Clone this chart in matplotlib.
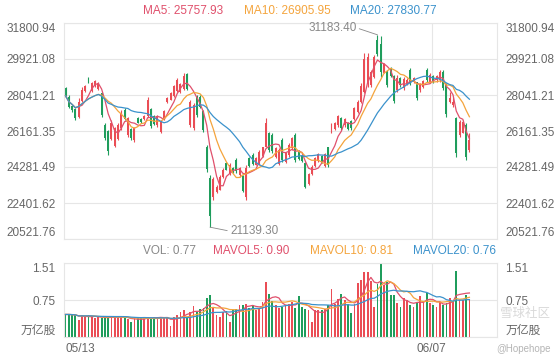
import numpy as np
import pandas as pd
import matplotlib
matplotlib.use('Agg')
import matplotlib.pyplot as plt

plt.rcParams['font.family'] = ['Liberation Sans', 'Noto Sans CJK SC', 'DejaVu Sans']

# K线数据
opens = [28400, 27950, 27450, 27300, 26900, 27750, 28250, 28950, 28250, 28500,
         28350, 28150, 26500, 26150, 25750, 25400, 25750, 26300, 27250, 25950,
         26250, 25700, 26850, 26800, 26780, 26950, 27300, 26950, 26450, 26100,
         26800, 27650, 27800, 28000, 28250, 28200, 28350, 29150, 26450, 26300,
         27950, 27950, 27200, 25350, 23700, 22700, 22950, 23100, 23750, 24500,
         23900, 24250, 24650, 23850, 23800, 22700, 24750, 24900, 24400, 24450,
         24850, 25350, 26050, 25950, 24800, 24450, 25700, 24550, 24900, 25250,
         25950, 25100, 24850, 24500, 23400, 23900, 24350, 24600, 24850, 24350,
         25300, 26100, 26250, 26450, 26850, 26450, 26600, 26700, 26800, 27150,
         27700, 28200, 28600, 28550, 29000, 30900, 30700, 29200, 29300, 29450,
         29050, 28300, 28950, 28400, 28600, 29350, 28700, 28700, 28300, 28450,
         29350, 28700, 29050, 28800, 28800, 29250, 28550, 27700, 27500, 26850,
         25950, 26050, 26500, 25150]
highs = [28480, 28040, 27520, 27350, 27870, 28480, 28570, 29000, 28740, 28830,
         28740, 28220, 26560, 26220, 26740, 26390, 26560, 27260, 27350, 26910,
         26300, 26390, 26910, 26830, 27000, 27960, 27350, 27000, 27000, 26740,
         27260, 27960, 28220, 28570, 28910, 28650, 29170, 29170, 27780, 27610,
         28040, 28040, 27260, 25430, 23860, 23780, 23340, 23860, 24210, 24560,
         24470, 24300, 24730, 24300, 23860, 24380, 24820, 24990, 24820, 25170,
         25340, 26820, 26130, 26040, 25340, 25260, 25780, 25080, 25520, 25870,
         26040, 25170, 24910, 24560, 23950, 24390, 24820, 25000, 24910, 25000,
         25350, 26565, 26650, 27000, 26910, 26825, 26650, 26740, 27435, 27780,
         28650, 30220, 30220, 29350, 30130, 31183.40, 31100, 29700, 29350, 29520,
         29090, 29090, 29000, 29000, 28910, 29430, 29000, 28740, 28650, 28830,
         29430, 29170, 29090, 29090, 29350, 29350, 28650, 28220, 27960, 26910,
         26740, 26740, 26560, 26040]
lows = [27950, 27350, 27170, 26740, 26820, 27700, 28220, 28650, 28220, 28480,
        28300, 26910, 25690, 24910, 25690, 25350, 25690, 26220, 26740, 25870,
        25690, 25600, 26560, 26560, 26740, 26910, 26300, 26480, 26390, 26040,
        26740, 27600, 27780, 27960, 28220, 28130, 28300, 28300, 26390, 26220,
        26910, 27350, 26130, 24040, 21139.30, 22560, 22900, 23080, 23690, 24120,
        23860, 23950, 23950, 23780, 22990, 22560, 24300, 24380, 24380, 24380,
        24820, 25340, 25080, 25000, 24730, 24390, 24560, 24470, 24820, 25170,
        24560, 24650, 24560, 23170, 23340, 23860, 24300, 24560, 24470, 24300,
        24300, 26040, 26215, 26390, 26215, 26390, 26215, 26215, 26740, 27085,
        27610, 28130, 28480, 28480, 28910, 30100, 29000, 29170, 28480, 29000,
        27610, 28220, 28480, 28300, 28560, 28560, 28650, 27780, 28220, 28390,
        28740, 28650, 28650, 28740, 28740, 28300, 26910, 27610, 27430, 24820,
        25870, 26040, 24650, 25090]
closes = [28000, 27400, 27250, 26850, 27700, 28300, 28500, 28700, 28650, 28750,
          28650, 27000, 25800, 25100, 26600, 26300, 26450, 27100, 26800, 26850,
          25800, 26300, 26600, 26620, 26950, 27800, 26400, 26550, 26950, 26650,
          27200, 27900, 28150, 28500, 28800, 28600, 29050, 28350, 27650, 27500,
          27000, 27400, 26200, 24200, 21700, 23650, 23250, 23750, 24150, 24150,
          24400, 24000, 24050, 24250, 23050, 24250, 24350, 24450, 24750, 25050,
          25300, 26600, 25150, 25100, 25250, 25150, 24650, 25000, 25450, 25800,
          24650, 24700, 24600, 23250, 23900, 24300, 24750, 24950, 24500, 24950,
          24400, 26500, 26600, 26950, 26300, 26780, 26280, 26300, 27350, 27700,
          28500, 29900, 30000, 29250, 30000, 30200, 29250, 29650, 28550, 29050,
          27750, 28950, 28550, 28900, 28850, 28650, 28950, 27900, 28600, 28750,
          28800, 29100, 28700, 29050, 29250, 28400, 27050, 27900, 27670, 25000,
          26650, 26650, 24800, 25690]
# 成交量(万亿股)
volume = [0.46, 0.46, 0.45, 0.44, 0.34, 0.44, 0.43, 0.44, 0.42, 0.38,
          0.40, 0.39, 0.41, 0.40, 0.41, 0.40, 0.42, 0.41, 0.40, 0.36,
          0.30, 0.38, 0.38, 0.39, 0.38, 0.40, 0.39, 0.40, 0.40, 0.41,
          0.38, 0.40, 0.22, 0.40, 0.45, 0.50, 0.56, 0.40, 0.50, 0.64,
          0.52, 0.57, 0.60, 0.80, 0.85, 0.60, 0.45, 0.40, 0.50, 0.53,
          0.30, 0.55, 0.58, 0.65, 0.65, 0.67, 0.60, 0.65, 0.55, 0.60,
          0.72, 1.12, 0.87, 0.73, 0.66, 0.60, 0.62, 0.65, 0.68, 0.72,
          0.60, 0.83, 0.62, 0.58, 0.55, 0.31, 0.55, 0.55, 0.55, 0.58,
          0.66, 0.98, 0.68, 0.78, 0.88, 0.76, 0.68, 0.48, 0.68, 1.10,
          1.17, 1.33, 1.33, 1.15, 0.62, 1.08, 1.51, 1.06, 1.12, 0.85,
          0.85, 0.70, 0.62, 0.79, 0.75, 0.66, 0.62, 0.70, 0.83, 0.72,
          0.90, 0.70, 0.66, 0.62, 0.72, 0.66, 0.70, 0.79, 0.74, 1.35,
          0.76, 0.76, 0.85, 0.77]

date_labels = ['05/13', '06/07']
date_pos = [0, 111.5]
price_ticks = [20521.76, 22401.62, 24281.49, 26161.35, 28041.21, 29921.08, 31800.94]
vol_ticks = [0, 0.75, 1.51]
vol_tick_labels = ['万亿股', '0.75', '1.51']
ma_legend = ['MA5: 25757.93', 'MA10: 26905.95', 'MA20: 27830.77']
vol_legend = ['VOL: 0.77', 'MAVOL5: 0.90', 'MAVOL10: 0.81', 'MAVOL20: 0.76']

RED = '#ea4d55'
GREEN = '#1f9d5c'
C5 = '#e0506c'
C10 = '#f4a43c'
C20 = '#3b92cc'
GRID = '#e6e6e6'
TXT = '#666666'

o = np.array(opens, dtype=float)
h = np.array(highs, dtype=float)
l = np.array(lows, dtype=float)
c = np.array(closes, dtype=float)
v = np.array(volume, dtype=float)
x = np.arange(len(c))
cols = np.where(c >= o, RED, GREEN)

cs = pd.Series(c)
vs = pd.Series(v)

fig = plt.figure(figsize=(5.6, 3.6), dpi=100)
ax = fig.add_axes([64/560, 1-239/360, 433/560, 216/360])
axv = fig.add_axes([64/560, 1-337/360, 433/560, 74/360])

# 主图: K线 + 均线
ax.vlines(x, l, h, colors=cols, lw=0.8, zorder=2)
ax.bar(x, np.maximum(np.abs(c-o), 15), bottom=np.minimum(o, c), width=0.6,
       color=cols, lw=0, zorder=2)
ax.plot(x, cs.rolling(5, min_periods=1).mean(), color=C5, lw=0.9, zorder=3)
ax.plot(x, cs.rolling(10, min_periods=1).mean(), color=C10, lw=0.9, zorder=3)
ax.plot(x, cs.rolling(20, min_periods=1).mean(), color=C20, lw=0.9, zorder=3)

hi = int(np.argmax(h))
lo = int(np.argmin(l))
ax.annotate('%.2f' % h[hi], xy=(hi, h[hi]), xytext=(-21, 7), textcoords='offset pixels',
            ha='right', va='center', fontsize=8.5, color='#888888',
            arrowprops=dict(arrowstyle='-', color='#888888', lw=0.6,
                            shrinkA=0, shrinkB=0, relpos=(1, 0.5)))
ax.annotate('%.2f' % l[lo], xy=(lo, l[lo]), xytext=(20, -4), textcoords='offset pixels',
            ha='left', va='center', fontsize=8.5, color='#888888',
            arrowprops=dict(arrowstyle='-', color='#888888', lw=0.6,
                            shrinkA=0, shrinkB=0, relpos=(0, 0.5)))

ax.set_xlim(-0.46, 131.4)
ax.set_ylim(price_ticks[0], price_ticks[-1])
ax.set_yticks(price_ticks)
ax.set_yticklabels(['%.2f' % t for t in price_ticks])
ax.set_xticks([])

# 成交量
axv.bar(x, v, width=0.55, color=cols, lw=0, zorder=2)
axv.plot(x, vs.rolling(5, min_periods=1).mean(), color=C5, lw=0.9, zorder=3)
axv.plot(x, vs.rolling(10, min_periods=1).mean(), color=C10, lw=0.9, zorder=3)
axv.plot(x, vs.rolling(20, min_periods=1).mean(), color=C20, lw=0.9, zorder=3)
axv.set_xlim(-0.46, 131.4)
axv.set_ylim(0, 1.51)
axv.set_yticks(vol_ticks)
axv.set_yticklabels(vol_tick_labels)
axv.set_xticks(date_pos)
axv.set_xticklabels(date_labels)
axv.get_xticklabels()[0].set_ha('left')

for a in (ax, axv):
    a.set_axisbelow(True)
    a.yaxis.grid(True, color=GRID, lw=0.8)
    a.axvline(date_pos[1], color=GRID, lw=0.8, zorder=0)
    for s in a.spines.values():
        s.set_color(GRID)
        s.set_linewidth(0.8)
    a.tick_params(axis='y', length=0, labelsize=8.5, labelcolor=TXT,
                  labelleft=True, labelright=True, pad=6)
    a.tick_params(axis='x', length=0, labelsize=8.5, labelcolor=TXT, pad=4)
    ticks = a.yaxis.get_major_ticks()
    ticks[0].label1.set_va('bottom')
    ticks[0].label2.set_va('bottom')
    ticks[-1].label1.set_va('top')
    ticks[-1].label2.set_va('top')

# 图例文字
for txt, col, px in zip(ma_legend, [C5, C10, C20], [143, 244, 350]):
    fig.text(px/560, 1-11/360, txt, color=col, fontsize=8.5, ha='left', va='center')
for txt, col, px in zip(vol_legend, ['#888888', C5, C10, C20], [143, 213, 310, 413]):
    fig.text(px/560, 1-251/360, txt, color=col, fontsize=8.5, ha='left', va='center')

# 水印
fig.text(500/560, 1-314/360, '雪球社区', color='#d0d0d0', fontsize=9, ha='left',
         va='center', alpha=0.8)
fig.text(496/560, 1-349/360, '@Hopehope', color='#b5b5b5', fontsize=7, ha='left',
         va='center')

fig.savefig('out.png', dpi=100)
